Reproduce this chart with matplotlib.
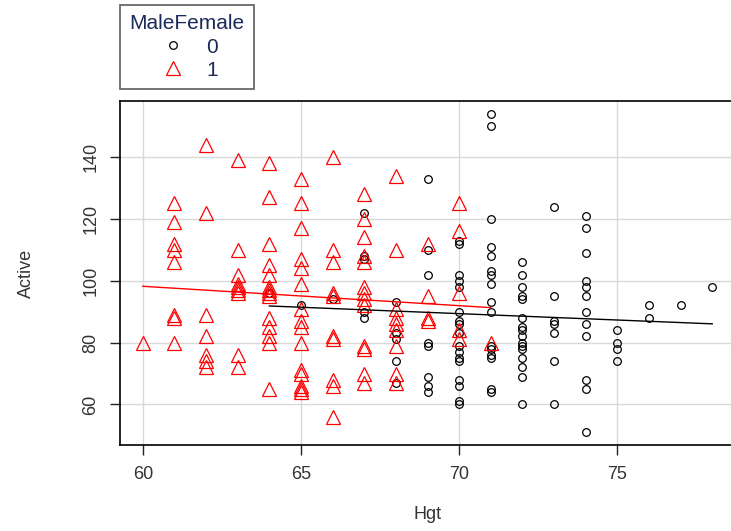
import numpy as np
import matplotlib
matplotlib.use("Agg")
import matplotlib.pyplot as plt

plt.rcParams['font.family'] = ['Liberation Sans', 'DejaVu Sans']

# Female (MaleFemale = 1): height -> activity values
fem_hgt = [60] * 1 + [61] * 8 + [62] * 7 + [63] * 9 + [64] * 14 + [65] * 15 \
    + [66] * 10 + [67] * 13 + [68] * 9 + [69] * 4 + [70] * 5 + [71] * 1
fem_act = [80,
           125, 119, 112, 110, 106, 89, 88, 80,
           144, 122, 89, 82, 76, 74, 72,
           139, 110, 102, 99, 98, 97, 96, 76, 72,
           138, 127, 112, 105, 102, 98, 97, 96, 95, 88, 85, 82, 80, 65,
           133, 125, 117, 107, 104, 99, 91, 87, 85, 80, 71, 70, 66, 65, 64,
           140, 110, 106, 96, 95, 82, 81, 68, 66, 56,
           128, 120, 114, 108, 106, 98, 96, 94, 92, 79, 78, 70, 67,
           134, 110, 91, 88, 86, 84, 79, 70, 67,
           112, 95, 88, 87,
           125, 116, 96, 84, 81,
           80]

# Male (MaleFemale = 0)
male_hgt = [64] * 1 + [65] * 1 + [66] * 1 + [67] * 5 + [68] * 5 + [69] * 8 \
    + [70] * 17 + [71] * 16 + [72] * 16 + [73] * 7 + [74] * 12 + [75] * 4 \
    + [76] * 2 + [77] * 1 + [78] * 1
male_act = [96,
            92,
            94,
            122, 108, 107, 90, 88,
            93, 83, 81, 74, 67,
            133, 110, 102, 80, 79, 69, 66, 64,
            113, 112, 102, 100, 98, 90, 87, 86, 83, 79, 77, 75, 74, 68, 66, 61, 60,
            154, 150, 120, 111, 108, 103, 102, 99, 93, 90, 79, 78, 76, 75, 65, 64,
            106, 102, 98, 95, 94, 88, 85, 84, 82, 80, 79, 78, 75, 72, 69, 60,
            124, 95, 87, 86, 83, 74, 60,
            121, 117, 109, 100, 98, 95, 90, 86, 82, 68, 65, 51,
            84, 80, 78, 74,
            92, 88,
            92,
            98]

xticks = [60, 65, 70, 75]
yticks = [60, 80, 100, 120, 140]

fig = plt.figure(figsize=(7.31, 5.31), dpi=100)
ax = fig.add_axes([120 / 731, 86 / 531, 615 / 731, 344 / 531])

for t in xticks:
    ax.axvline(t, color='#d9d9d9', lw=1, zorder=0)
for t in yticks:
    ax.axhline(t, color='#d9d9d9', lw=1, zorder=0)

m0, = ax.plot(male_hgt, male_act, 'o', ms=5.5, mfc='none', mec='black', mew=0.9, label='0')
m1, = ax.plot(fem_hgt, fem_act, '^', ms=10, mfc='none', mec='red', mew=0.9, label='1')

# least squares lines per group
for hx, hy, c in [(male_hgt, male_act, 'black'), (fem_hgt, fem_act, 'red')]:
    hx = np.array(hx, float)
    hy = np.array(hy, float)
    b, a = np.polyfit(hx, hy, 1)
    xs = np.array([hx.min(), hx.max()])
    ax.plot(xs, a + b * xs, color=c, lw=1)

allx = np.array(male_hgt + fem_hgt)
ally = np.array(male_act + fem_act)
dx = (allx.max() - allx.min()) * 0.04
dy = (ally.max() - ally.min()) * 0.04
ax.set_xlim(allx.min() - dx, allx.max() + dx)
ax.set_ylim(ally.min() - dy, ally.max() + dy)

ax.set_xticks(xticks)
ax.set_yticks(yticks)
ax.tick_params(labelsize=13, length=7, width=1, color='#222222', labelcolor='#333333', pad=8)
for lab in ax.get_yticklabels():
    lab.set_rotation(90)
    lab.set_va('center')
for s in ax.spines.values():
    s.set_color('black')
    s.set_linewidth(1.2)

ax.set_xlabel('Hgt', fontsize=13, labelpad=17, color='#333333')
ax.set_ylabel('Active', fontsize=13, labelpad=34, color='#333333')

leg = fig.legend(handles=[m0, m1], title='MaleFemale', loc='upper left',
                 bbox_to_anchor=(120 / 731, 1 - 5 / 531), fontsize=15,
                 title_fontsize=15, frameon=True, fancybox=False,
                 edgecolor='#333333', borderpad=0.45, handletextpad=0.8,
                 labelspacing=0.2, borderaxespad=0, handlelength=1.6)
leg.get_frame().set_linewidth(1.2)
for txt in leg.get_texts():
    txt.set_color('#1a2a5a')
leg.get_title().set_color('#1a2a5a')

fig.savefig('out.png', dpi=100)
